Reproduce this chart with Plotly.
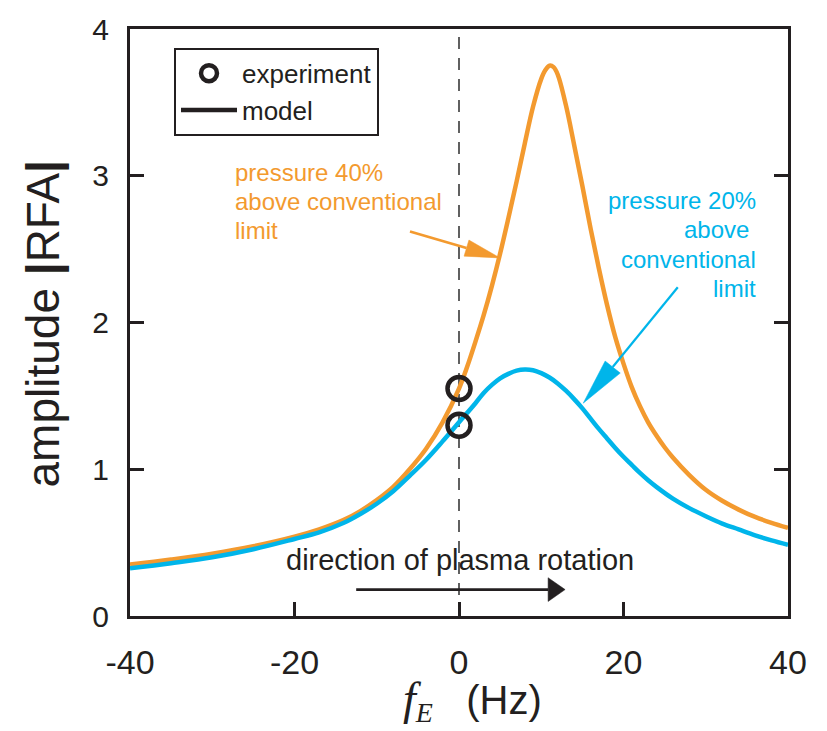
import math
import plotly.graph_objects as go

# ---- data -------------------------------------------------------------
# model amplitude vs. E-field rotation frequency (Hz)
f_40 = [-40, -35, -30, -25, -20, -17, -14, -12, -10, -8, -6, -4, -2, 0, 1, 2, 3, 4,
        5, 6, 7, 8, 9, 10, 10.5, 11, 11.5, 12, 13, 14, 15, 16, 17, 18, 19, 20, 21,
        22, 23, 24, 25, 26, 28, 30, 32, 34, 36, 38, 40]
amp_40 = [0.35, 0.385, 0.425, 0.475, 0.54, 0.59, 0.655, 0.715, 0.79, 0.88, 1.00,
          1.14, 1.32, 1.55, 1.70, 1.87, 2.05, 2.25, 2.47, 2.71, 2.96, 3.22, 3.47,
          3.66, 3.72, 3.75, 3.74, 3.69, 3.48, 3.21, 2.93, 2.64, 2.37, 2.12, 1.90,
          1.72, 1.56, 1.43, 1.32, 1.23, 1.15, 1.08, 0.96, 0.86, 0.785, 0.725, 0.675,
          0.635, 0.60]

f_20 = [-40, -35, -30, -25, -20, -17, -14, -12, -10, -8, -6, -4, -2, 0, 2, 3, 4, 5,
        6, 7, 8, 9, 10, 11, 12, 13, 14, 15, 16, 17, 18, 19, 20, 21, 22, 23, 24, 26,
        28, 30, 32, 34, 36, 38, 40]
amp_20 = [0.325, 0.36, 0.40, 0.455, 0.525, 0.57, 0.635, 0.695, 0.765, 0.85, 0.955,
          1.065, 1.19, 1.32, 1.45, 1.52, 1.575, 1.62, 1.65, 1.672, 1.68, 1.675,
          1.655, 1.625, 1.585, 1.535, 1.478, 1.415, 1.345, 1.275, 1.21, 1.145,
          1.085, 1.03, 0.975, 0.925, 0.88, 0.80, 0.735, 0.68, 0.63, 0.59, 0.55,
          0.515, 0.485]

# measured amplitudes at f_E = 0
f_exp = [0, 0]
amp_exp = [1.55, 1.30]

x_ticks = [-40, -20, 0, 20, 40]
y_ticks = [0, 1, 2, 3, 4]

label_40 = ["pressure 40%", "above conventional", "limit"]
label_20 = ["pressure 20%", "above\u00a0", "conventional", "limit"]
rotation_label = "direction of plasma rotation"

# ---- style ------------------------------------------------------------
ORANGE = "#F39A2F"
CYAN = "#00B5EA"
INK = "#231F20"
SANS = "Liberation Sans, Arial, Helvetica, sans-serif"
SERIF = "Liberation Serif, Times New Roman, serif"

W, H = 827, 731
ML, MR, MT, MB = 130, 39, 22, 115
X_RANGE = (-40, 40)
Y_RANGE = (0, 4)
PLOT_W = W - ML - MR
PLOT_H = H - MT - MB
PX_X = PLOT_W / (X_RANGE[1] - X_RANGE[0])
PX_Y = PLOT_H / (Y_RANGE[1] - Y_RANGE[0])


def paper_x(px):
    return (px - ML) / PLOT_W


def paper_y(py):
    return (H - MB - py) / PLOT_H


fig = go.Figure()

fig.add_trace(go.Scatter(x=f_40, y=amp_40, mode="lines",
                         line=dict(color=ORANGE, width=4.5, shape="spline",
                                   smoothing=1.0),
                         showlegend=False, hoverinfo="skip"))
fig.add_trace(go.Scatter(x=f_20, y=amp_20, mode="lines",
                         line=dict(color=CYAN, width=4.5, shape="spline",
                                   smoothing=1.0),
                         showlegend=False, hoverinfo="skip"))
fig.add_trace(go.Scatter(x=f_exp, y=amp_exp, mode="markers", name="experiment",
                         marker=dict(symbol="circle-open", size=23, color=INK,
                                     line=dict(width=4.5, color=INK))))
# legend key for the model curves
fig.add_trace(go.Scatter(x=[None], y=[None], mode="lines", name="model",
                         line=dict(color=INK, width=4.5)))

shapes = []
# dashed marker of zero rotation frequency
shapes.append(dict(type="line", xref="x", yref="y", x0=0, x1=0, y0=0, y1=4,
                   line=dict(color="#3a3a3a", width=1.6, dash="12px,9px"),
                   layer="below"))


def arrow(tail, tip, color, width, head_len, head_half):
    """Straight arrow with a filled triangular head, sized in pixels."""
    dx = (tip[0] - tail[0]) * PX_X
    dy = (tip[1] - tail[1]) * PX_Y
    n = math.hypot(dx, dy)
    ux, uy = dx / n, dy / n
    bx = tip[0] - ux * head_len / PX_X
    by = tip[1] - uy * head_len / PX_Y
    px, py = -uy, ux
    c1 = (bx + px * head_half / PX_X, by + py * head_half / PX_Y)
    c2 = (bx - px * head_half / PX_X, by - py * head_half / PX_Y)
    shapes.append(dict(type="line", xref="x", yref="y", x0=tail[0], y0=tail[1],
                       x1=bx, y1=by, line=dict(color=color, width=width)))
    path = f"M {tip[0]},{tip[1]} L {c1[0]},{c1[1]} L {c2[0]},{c2[1]} Z"
    shapes.append(dict(type="path", xref="x", yref="y", path=path,
                       fillcolor=color, line=dict(color=color, width=0.5)))


arrow((-5.96, 2.62), (4.99, 2.44), ORANGE, 2.6, 35, 8.5)
arrow((26.6, 2.24), (15.1, 1.45), CYAN, 2.2, 47, 9.7)
arrow((-12.5, 0.18), (12.9, 0.18), INK, 2.6, 17, 12)

annotations = []
for i, line in enumerate(label_40):
    annotations.append(dict(x=-27.5, y=3.025 - i * 0.199, xref="x", yref="y",
                            text=line, showarrow=False, xanchor="left",
                            yanchor="middle",
                            font=dict(family=SANS, size=24, color=ORANGE)))
for i, line in enumerate(label_20):
    annotations.append(dict(x=36.35, y=2.83 - i * 0.199, xref="x", yref="y",
                            text=line, showarrow=False, xanchor="right",
                            yanchor="middle",
                            font=dict(family=SANS, size=24, color=CYAN)))
annotations.append(dict(x=0.1, y=0.385, xref="x", yref="y", text=rotation_label,
                        showarrow=False, xanchor="center", yanchor="middle",
                        font=dict(family=SANS, size=29, color=INK)))

# axis titles
annotations.append(dict(
    x=paper_x(43), y=paper_y(321), xref="paper", yref="paper",
    text="amplitude <b>|</b>RFA<b>|</b>", textangle=-90, showarrow=False,
    xanchor="center", yanchor="middle",
    font=dict(family=SANS, size=46, color=INK)))
annotations.append(dict(
    x=paper_x(472), y=paper_y(702), xref="paper", yref="paper",
    text=(f"<span style='font-family:{SERIF};font-size:46px'><i>f</i></span>"
          f"<span style='font-family:{SERIF}'><sub><i>E</i></sub></span>"
          "\u00a0\u00a0\u00a0(Hz)"),
    showarrow=False, xanchor="center", yanchor="middle",
    font=dict(family=SANS, size=40, color=INK)))

fig.update_layout(
    width=W, height=H,
    margin=dict(l=ML, r=MR, t=MT, b=MB, pad=0),
    paper_bgcolor="white", plot_bgcolor="white",
    shapes=shapes, annotations=annotations,
    showlegend=True,
    legend=dict(x=paper_x(174), y=paper_y(41), xanchor="left", yanchor="top",
                bordercolor=INK, borderwidth=2, bgcolor="white",
                font=dict(family=SANS, size=26, color=INK),
                itemwidth=56, tracegroupgap=0),
    xaxis=dict(range=list(X_RANGE), tickvals=x_ticks,
               ticktext=[str(v) for v in x_ticks],
               ticks="inside", ticklen=14, tickwidth=2.5, tickcolor=INK,
               showline=True, linewidth=3, linecolor=INK, mirror=True,
               showgrid=False, zeroline=False, ticklabelstandoff=14,
               tickfont=dict(family=SANS, size=34, color=INK)),
    yaxis=dict(range=list(Y_RANGE), tickvals=y_ticks,
               ticks="inside", ticklen=14, tickwidth=2.5, tickcolor=INK,
               showline=True, linewidth=3, linecolor=INK, mirror="ticks",
               showgrid=False, zeroline=False, ticklabelstandoff=12,
               tickfont=dict(family=SANS, size=30, color=INK)),
)

fig.write_html("out.html")
